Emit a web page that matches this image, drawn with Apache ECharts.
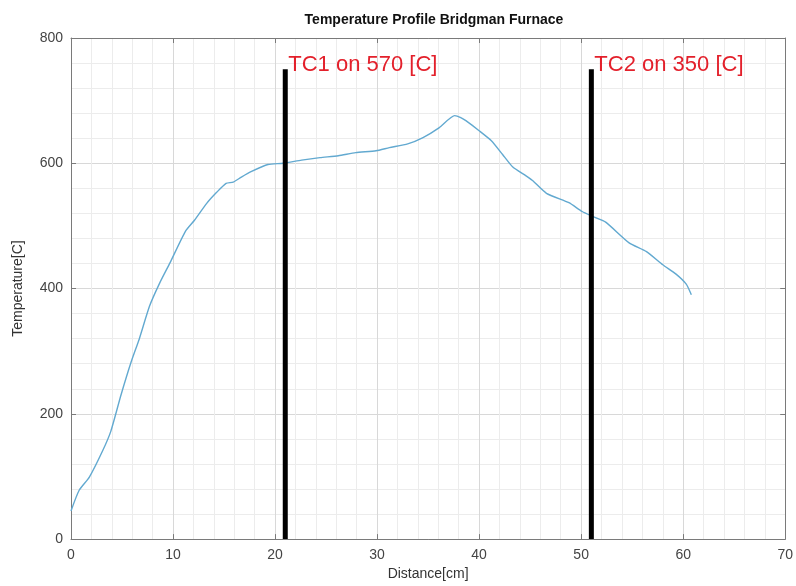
<!DOCTYPE html>
<html>
<head>
<meta charset="utf-8">
<script src="https://cdn.jsdelivr.net/npm/echarts@6/dist/echarts.min.js"></script>
<style>html,body{margin:0;padding:0;background:#fff}#c{width:796px;height:586px}</style>
</head>
<body>
<div id="c"></div>
<script>
var distance = [0, 0.8, 1.8, 3.1, 3.9, 4.9, 5.9, 6.7, 7.7, 8.7, 9.7, 11.2, 12.1, 13.3, 14.3, 15.2, 15.9, 16.7, 17.7, 19.3, 20.8, 22.6, 24.4, 26.2, 27.9, 29.9, 31.2, 33.0, 34.5, 36.1, 37.6, 38.2, 38.7, 40.0, 41.2, 42.3, 43.3, 44.6, 45.2, 46.6, 48.8, 50.1, 51.3, 52.4, 54.7, 56.4, 58.0, 59.3, 60.3, 60.8];
var temperature = [45, 78, 99, 141, 172, 230, 283, 320, 372, 409, 441, 491, 509, 536, 554, 568, 570, 578, 587, 598, 600, 605, 609, 612, 617, 620, 625, 631, 641, 657, 676, 673, 668, 652, 636, 614, 594, 580, 573, 552, 537, 523, 514, 506, 473, 459, 438, 423, 407, 390];
var tcNames = ['TC1 on 570 [C]', 'TC2 on 350 [C]'];
var tcPositions = [21, 51];
var tcTop = 750;

var chart = echarts.init(document.getElementById('c'));
var font = 'Liberation Sans, Arial, sans-serif';
var curve = distance.map(function (d, i) { return [d, temperature[i]]; });

var series = [{
  type: 'line', data: curve, showSymbol: false, smooth: 0.2,
  lineStyle: { color: '#62a9d0', width: 1.4 }, z: 3, xAxisIndex: 0, yAxisIndex: 0
}];
tcPositions.forEach(function (p, i) {
  series.push({
    type: 'line', showSymbol: false, symbol: 'none', xAxisIndex: 0, yAxisIndex: 0,
    lineStyle: { color: '#000', width: 5 }, z: 4,
    data: [[p, 0], [p, tcTop]],
    endLabel: {
      show: true, formatter: tcNames[i], distance: 0,
      offset: [3, -4], color: '#e3202b', fontSize: 22, fontFamily: font
    }
  });
});

var axisLine = { show: true, onZero: false, lineStyle: { color: '#7a7a7a', width: 1 } };
chart.setOption({
  animation: false,
  title: {
    text: 'Temperature Profile Bridgman Furnace', left: 429, textAlign: 'center', top: 8,
    textStyle: { fontFamily: font, fontSize: 14, fontWeight: 'bold', color: '#111' }
  },
  grid: { left: 71, right: 10, top: 38, bottom: 44 },
  xAxis: [{
    type: 'value', min: 0, max: 70, interval: 10,
    name: 'Distance[cm]', nameLocation: 'middle', nameGap: 27,
    nameTextStyle: { fontFamily: font, fontSize: 14, color: '#333' },
    axisLine: axisLine,
    axisTick: { show: true, inside: true, length: 5, lineStyle: { color: '#7a7a7a' } },
    axisLabel: { fontFamily: font, fontSize: 14, color: '#444', margin: 9 },
    splitLine: { show: true, lineStyle: { color: '#d8d8d8' } },
    minorTick: { show: false, splitNumber: 5 },
    minorSplitLine: { show: true, lineStyle: { color: '#ececec' } }
  }, {
    type: 'value', min: 0, max: 70, interval: 10, position: 'top',
    axisLine: axisLine,
    axisTick: { show: true, inside: true, length: 5, lineStyle: { color: '#7a7a7a' } },
    axisLabel: { show: false }, splitLine: { show: false }
  }],
  yAxis: [{
    type: 'value', min: 0, max: 800, interval: 200,
    name: 'Temperature[C]', nameLocation: 'middle', nameGap: 46,
    nameTextStyle: { fontFamily: font, fontSize: 14, color: '#333' },
    axisLine: axisLine,
    axisTick: { show: true, inside: true, length: 5, lineStyle: { color: '#7a7a7a' } },
    axisLabel: { fontFamily: font, fontSize: 14, color: '#444', margin: 8 },
    splitLine: { show: true, lineStyle: { color: '#d8d8d8' } },
    minorTick: { show: false, splitNumber: 5 },
    minorSplitLine: { show: true, lineStyle: { color: '#ececec' } }
  }, {
    type: 'value', min: 0, max: 800, interval: 200, position: 'right',
    axisLine: axisLine,
    axisTick: { show: true, inside: true, length: 5, lineStyle: { color: '#7a7a7a' } },
    axisLabel: { show: false }, splitLine: { show: false }
  }],
  series: series
});
</script>
</body>
</html>
